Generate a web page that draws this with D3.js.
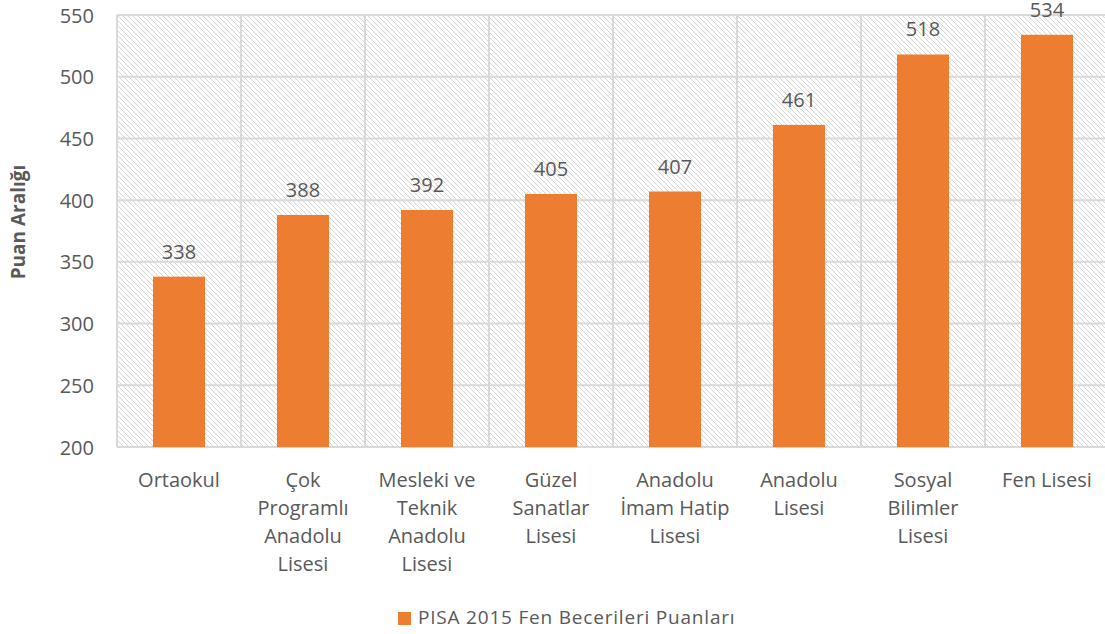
<!DOCTYPE html>
<html lang="tr">
<head>
<meta charset="utf-8"/>
<title>PISA 2015 Fen Becerileri Puanları</title>
<script src="https://d3js.org/d3.v7.min.js"></script>
<style>
  body { margin: 0; background: #fff; }
  svg text { font-family: "Open Sans", Lato, sans-serif; fill: #595959; }
</style>
</head>
<body>
<div id="chart"></div>
<script>
  const categories = [
    ["Ortaokul"],
    ["Çok", "Programlı", "Anadolu", "Lisesi"],
    ["Mesleki ve", "Teknik", "Anadolu", "Lisesi"],
    ["Güzel", "Sanatlar", "Lisesi"],
    ["Anadolu", "İmam Hatip", "Lisesi"],
    ["Anadolu", "Lisesi"],
    ["Sosyal", "Bilimler", "Lisesi"],
    ["Fen Lisesi"]
  ];
  const scores = [338, 388, 392, 405, 407, 461, 518, 534];
  const yTicks = [200, 250, 300, 350, 400, 450, 500, 550];
  const seriesName = "PISA 2015 Fen Becerileri Puanları";
  const yTitle = "Puan Aralığı";

  const width = 1105, height = 634;
  const margin = {top: 15, right: -4, bottom: 187, left: 117};
  const innerW = width - margin.left - margin.right;
  const innerH = height - margin.top - margin.bottom;

  const svg = d3.select("#chart").append("svg")
      .attr("width", width)
      .attr("height", height);

  // diagonal hatch behind the plot
  const defs = svg.append("defs");
  const pat = defs.append("pattern")
      .attr("id", "hatch")
      .attr("patternUnits", "userSpaceOnUse")
      .attr("width", 5)
      .attr("height", 5);
  pat.append("rect").attr("width", 5).attr("height", 5).attr("fill", "#fff");
  pat.append("path")
      .attr("d", "M-1,-1 L6,6 M-1,4 L1,6 M4,-1 L6,1")
      .attr("stroke", "#d6d6d6")
      .attr("stroke-width", 1);

  const x = d3.scaleBand()
      .domain(d3.range(categories.length))
      .range([0, innerW])
      .paddingInner(0.58)
      .paddingOuter(0.29);

  const xGrid = d3.scaleLinear().domain([0, categories.length]).range([0, innerW]);

  const y = d3.scaleLinear().domain([200, 550]).range([innerH, 0]);

  const g = svg.append("g").attr("transform", `translate(${margin.left},${margin.top})`);

  g.append("rect")
      .attr("width", innerW)
      .attr("height", innerH)
      .attr("fill", "url(#hatch)");

  // gridlines
  g.append("g").selectAll("line")
    .data(yTicks)
    .join("line")
      .attr("x1", 0).attr("x2", innerW)
      .attr("y1", d => y(d)).attr("y2", d => y(d))
      .attr("stroke", "#d9d9d9").attr("stroke-width", 2);

  g.append("g").selectAll("line")
    .data(d3.range(categories.length + 1))
    .join("line")
      .attr("x1", d => xGrid(d)).attr("x2", d => xGrid(d))
      .attr("y1", 0).attr("y2", innerH)
      .attr("stroke", "#d9d9d9").attr("stroke-width", 2);

  // bars
  g.append("g").selectAll("rect")
    .data(scores)
    .join("rect")
      .attr("x", (d, i) => x(i))
      .attr("y", d => y(d))
      .attr("width", x.bandwidth())
      .attr("height", d => innerH - y(d))
      .attr("fill", "#ed7d31");

  // value labels
  g.append("g").selectAll("text")
    .data(scores)
    .join("text")
      .attr("x", (d, i) => x(i) + x.bandwidth() / 2)
      .attr("y", d => y(d) - 18)
      .attr("text-anchor", "middle")
      .attr("font-size", 20)
      .text(d => d);

  // y axis
  const yAxis = g.append("g")
      .call(d3.axisLeft(y).tickValues(yTicks).tickSize(0).tickPadding(23));
  yAxis.select(".domain").remove();
  yAxis.selectAll("text")
      .attr("font-size", 20)
      .attr("dy", "0.35em");

  // x axis labels (multi-line)
  const xl = g.append("g").selectAll("text")
    .data(categories)
    .join("text")
      .attr("x", (d, i) => x(i) + x.bandwidth() / 2)
      .attr("y", innerH + 40)
      .attr("text-anchor", "middle")
      .attr("font-size", 20);
  xl.selectAll("tspan")
    .data(d => d)
    .join("tspan")
      .attr("x", function() { return this.parentNode.getAttribute("x"); })
      .attr("dy", (d, i) => i === 0 ? 0 : 28)
      .text(d => d);

  // y title
  svg.append("text")
      .attr("transform", "translate(25,222) rotate(-90)")
      .attr("text-anchor", "middle")
      .attr("font-size", 19)
      .attr("font-weight", "bold")
      .text(yTitle);

  // legend
  const leg = svg.append("g").attr("transform", "translate(398,612)");
  leg.append("rect").attr("width", 13).attr("height", 13).attr("fill", "#ed7d31");
  leg.append("text")
      .attr("x", 20).attr("y", 12)
      .attr("font-size", 19)
      .attr("letter-spacing", 0.8)
      .text(seriesName);
</script>
</body>
</html>
